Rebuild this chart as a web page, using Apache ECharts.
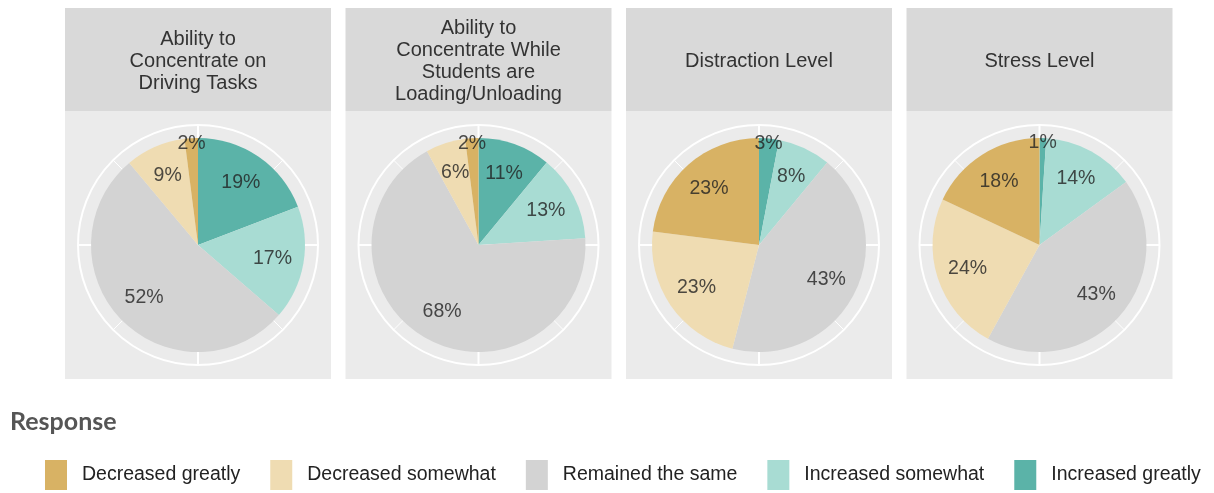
<!DOCTYPE html>
<html>
<head>
<meta charset="utf-8">
<script src="https://cdn.jsdelivr.net/npm/echarts@6/dist/echarts.min.js"></script>
<style>
  html, body { margin: 0; padding: 0; background: #ffffff; }
  #chart { width: 1214px; height: 493px; }
</style>
</head>
<body>
<div id="chart"></div>
<script>
// Survey facets (one pie per facet)
const panelTitles = [
  'Ability to\nConcentrate on\nDriving Tasks',
  'Ability to\nConcentrate While\nStudents are\nLoading/Unloading',
  'Distraction Level',
  'Stress Level'
];

// Response levels, in legend order
const responses = ['Decreased greatly', 'Decreased somewhat', 'Remained the same', 'Increased somewhat', 'Increased greatly'];

// Percent of respondents per facet
const decreasedGreatly  = [2, 2, 23, 18];
const decreasedSomewhat = [9, 6, 23, 24];
const remainedSame      = [52, 68, 43, 43];
const increasedSomewhat = [17, 13, 8, 14];
const increasedGreatly  = [19, 11, 3, 1];

const responseColors = ['#d8b264', '#efdcb2', '#d3d3d3', '#a8dcd3', '#5bb3a8'];

const FONT = '"Liberation Sans", Arial, Helvetica, sans-serif';

// facet geometry
const panelLeft0 = 65, panelStep = 280.5, panelWidth = 266;
const stripTop = 8, stripBottom = 111, panelBottom = 379;
const pieCy = 245, gridRadius = 120, pieRadius = 107;
const labelRadius = 0.63;      // fraction of the grid circle radius
const smallLabelRadius = 0.85; // thin slices get their label near the rim
const smallSlice = 5;

const valuesByResponse = [decreasedGreatly, decreasedSomewhat, remainedSame, increasedSomewhat, increasedGreatly];
// slices run clockwise from 12 o'clock, starting with "Increased greatly"
const sliceOrder = [4, 3, 2, 1, 0];

const polar = [], angleAxis = [], radiusAxis = [], series = [], graphic = [];

panelTitles.forEach((title, p) => {
  const left = panelLeft0 + p * panelStep;
  const cx = left + panelWidth / 2;

  graphic.push({
    type: 'rect', z: -10, silent: true,
    shape: { x: left, y: stripTop, width: panelWidth, height: stripBottom - stripTop },
    style: { fill: '#d9d9d9' }
  });
  graphic.push({
    type: 'rect', z: -10, silent: true,
    shape: { x: left, y: stripBottom, width: panelWidth, height: panelBottom - stripBottom },
    style: { fill: '#ebebeb' }
  });
  graphic.push({
    type: 'text', z: 10, silent: true, x: cx, y: (stripTop + stripBottom) / 2 + 2,
    style: {
      text: title, align: 'center', verticalAlign: 'middle',
      font: '20px ' + FONT, lineHeight: 22, fill: '#333333'
    }
  });

  polar.push({ center: [cx, pieCy], radius: gridRadius });
  angleAxis.push({
    polarIndex: p, type: 'value', min: 0, max: 100, interval: 25,
    startAngle: 90, clockwise: true,
    axisLine: { show: true, lineStyle: { color: '#ffffff', width: 2 } },
    axisTick: { show: false },
    axisLabel: { show: false },
    splitLine: { show: true, lineStyle: { color: '#ffffff', width: 2 } },
    minorTick: { show: false, splitNumber: 2 },
    minorSplitLine: { show: true, lineStyle: { color: '#ffffff', width: 1 } }
  });
  radiusAxis.push({
    polarIndex: p, type: 'value', min: 0, max: 1, show: false,
    axisLine: { show: false }, axisTick: { show: false }, axisLabel: { show: false }, splitLine: { show: false }
  });

  const values = sliceOrder.map(k => valuesByResponse[k][p]);
  const total = values.reduce((a, b) => a + b, 0);

  series.push({
    type: 'pie', z: 2, silent: true, animation: false,
    center: [cx, pieCy], radius: pieRadius,
    startAngle: 90, clockwise: true,
    label: { show: false }, labelLine: { show: false },
    itemStyle: { borderWidth: 0 },
    data: sliceOrder.map(k => ({
      name: responses[k],
      value: valuesByResponse[k][p],
      itemStyle: { color: responseColors[k] }
    }))
  });

  // percentage labels at each slice's mid-angle
  let cum = 0;
  const labelData = sliceOrder.map(k => {
    const v = valuesByResponse[k][p];
    const mid = (cum + v / 2) / total * 100;
    cum += v;
    const r = v < smallSlice ? smallLabelRadius : labelRadius;
    return { value: [r, mid], label: { formatter: v + '%' } };
  });
  series.push({
    type: 'scatter', coordinateSystem: 'polar', polarIndex: p,
    z: 5, silent: true, animation: false, symbolSize: 0,
    label: { show: true, position: 'inside', fontSize: 19.5, fontFamily: FONT, color: '#222222' },
    data: labelData
  });
});

graphic.push({
  type: 'text', z: 10, silent: true, x: 10, y: 422,
  style: { text: 'Response', verticalAlign: 'middle', font: 'bold 25px Lato, "Open Sans", sans-serif', fill: '#555555' }
});

const chart = echarts.init(document.getElementById('chart'), null, { renderer: 'canvas' });
chart.setOption({
  animation: false,
  backgroundColor: '#ffffff',
  polar, angleAxis, radiusAxis, series, graphic,
  legend: {
    left: 45, top: 460, orient: 'horizontal', padding: 0,
    itemWidth: 22, itemHeight: 30, itemGap: 30, icon: 'rect',
    selectedMode: false,
    textStyle: { fontSize: 19.5, fontFamily: FONT, color: '#222222', padding: [6, 0, 0, 10] },
    data: responses
  },
  tooltip: { show: false }
});
</script>
</body>
</html>
